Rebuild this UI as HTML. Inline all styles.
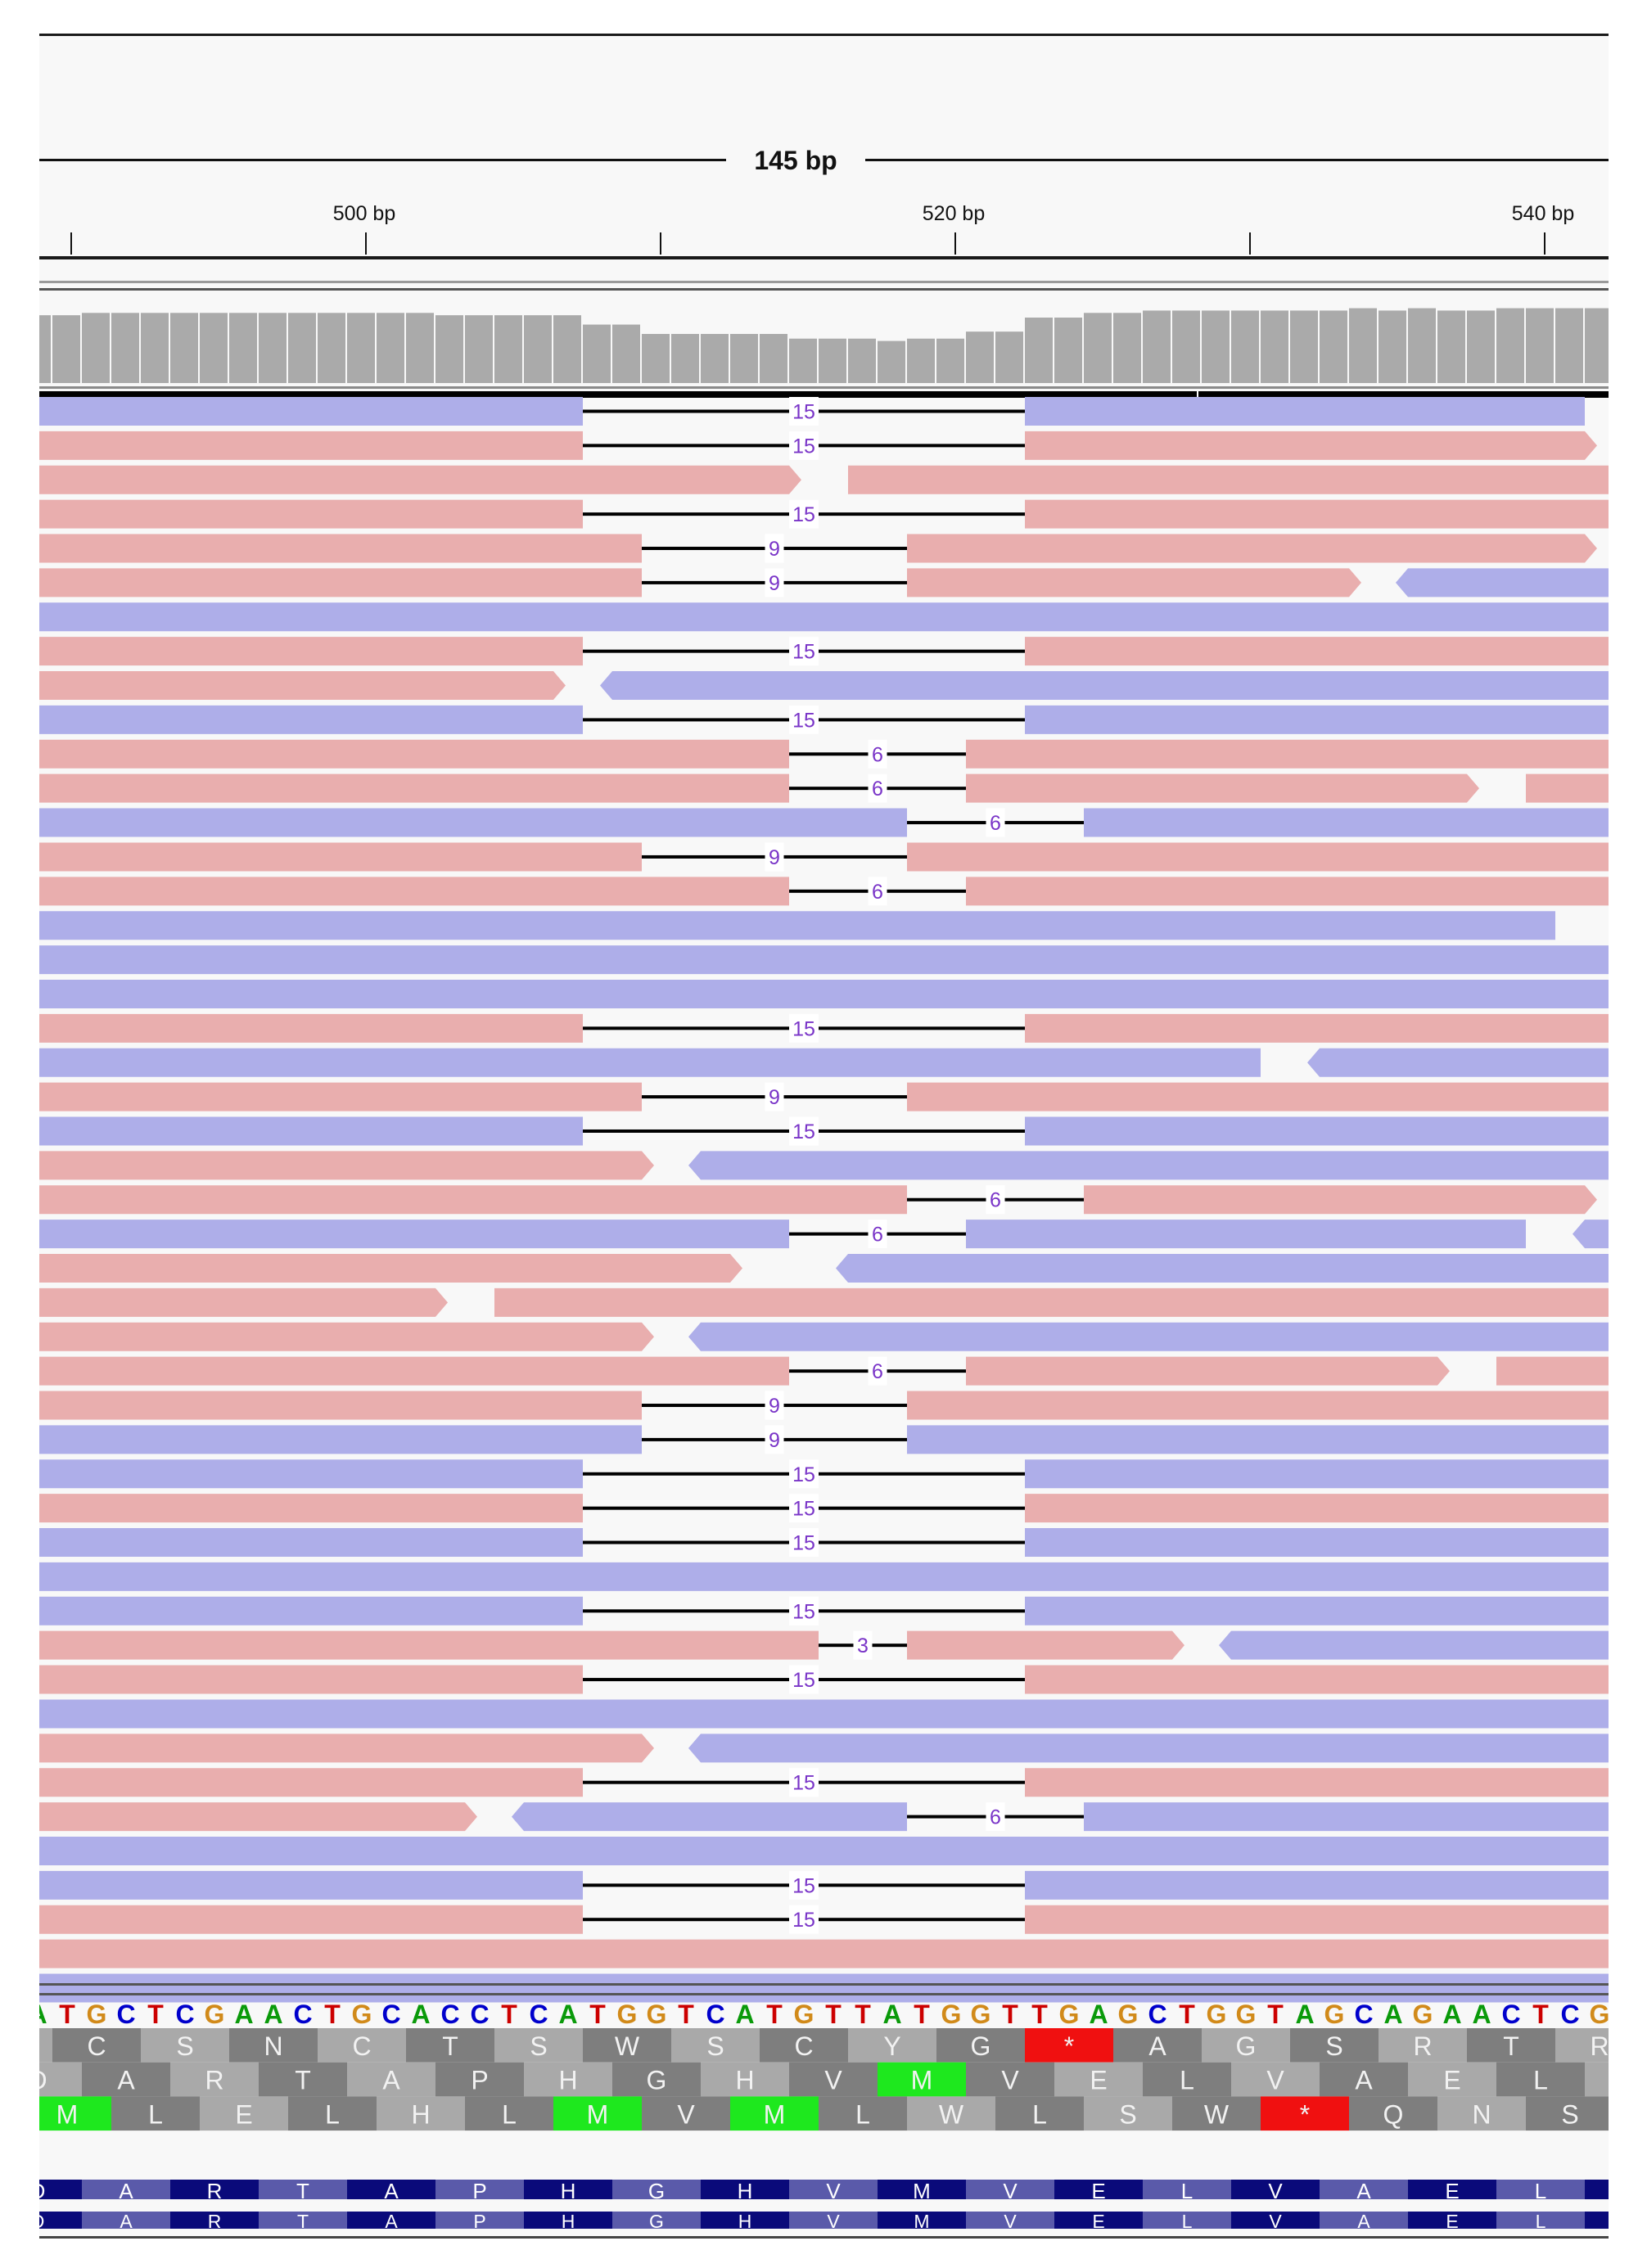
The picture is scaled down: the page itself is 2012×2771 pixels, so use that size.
<!DOCTYPE html>
<html><head><meta charset="utf-8"><title>IGV alignment view</title>
<style>
html,body{margin:0;padding:0;background:#fff;}
svg{display:block;font-family:"Liberation Sans",sans-serif;}
</style></head>
<body>
<svg id="chart" width="2012" height="2771" viewBox="0 0 2012 2771" xmlns="http://www.w3.org/2000/svg">
<defs><clipPath id="pc"><rect x="48" y="0" width="1917" height="2771"/></clipPath></defs>
<rect x="48" y="42" width="1917" height="2693" fill="#f8f8f8"/>
<g id="ruler"></g>
<g id="cov" clip-path="url(#pc)"></g>
<g id="reads" clip-path="url(#pc)"></g>
<g id="seq" clip-path="url(#pc)"></g>
<g id="trans" clip-path="url(#pc)"></g>
<g id="gene" clip-path="url(#pc)"></g>
</svg>
<script>
// ---- data ----
const tickBps = [490, 500, 510, 520, 530, 540];
const tickLabels = ["", "500 bp", "", "520 bp", "", "540 bp"];
const spanLabel = "145 bp";
const covStartBp = 488;
const coverage = [29,29,30,30,30,30,30,30,30,30,30,30,30,30,29,29,29,29,29,25,25,21,21,21,21,21,19,19,19,18,19,19,22,22,28,28,30,30,31,31,31,31,31,31,31,32,31,32,31,31,32,32,32,32];
const L = 470, R = 570;
// each read: [start, end, strand, gapStart, gapLen]
const rows = [
 [[L,541,'-',507,15]],
 [[L,541,'+',507,15]],
 [[L,514,'+'],[516,R,'+']],
 [[L,R,'+',507,15]],
 [[L,541,'+',509,9]],
 [[L,533,'+',509,9],[535,R,'-']],
 [[L,R,'-']],
 [[L,R,'+',507,15]],
 [[L,506,'+'],[508,R,'-']],
 [[L,R,'-',507,15]],
 [[L,R,'+',514,6]],
 [[L,537,'+',514,6],[539,R,'+']],
 [[L,R,'-',518,6]],
 [[L,R,'+',509,9]],
 [[L,R,'+',514,6]],
 [[L,540,'-']],
 [[L,R,'-']],
 [[L,R,'-']],
 [[L,R,'+',507,15]],
 [[L,530,'-'],[532,R,'-']],
 [[L,R,'+',509,9]],
 [[L,R,'-',507,15]],
 [[L,509,'+'],[511,R,'-']],
 [[L,541,'+',518,6]],
 [[L,539,'-',514,6],[541,R,'-']],
 [[L,512,'+'],[516,R,'-']],
 [[L,502,'+'],[504,R,'+']],
 [[L,509,'+'],[511,R,'-']],
 [[L,536,'+',514,6],[538,R,'+']],
 [[L,R,'+',509,9]],
 [[L,R,'-',509,9]],
 [[L,R,'-',507,15]],
 [[L,R,'+',507,15]],
 [[L,R,'-',507,15]],
 [[L,R,'-']],
 [[L,R,'-',507,15]],
 [[L,527,'+',515,3],[529,R,'-']],
 [[L,R,'+',507,15]],
 [[L,R,'-']],
 [[L,509,'+'],[511,R,'-']],
 [[L,R,'+',507,15]],
 [[L,503,'+'],[505,R,'-',518,6]],
 [[L,R,'-']],
 [[L,R,'-',507,15]],
 [[L,R,'+',507,15]],
 [[L,R,'+']],
 [[L,R,'-']]
];
const seqStartBp = 488;
const sequence = "ATGCTCGAACTGCACCTCATGGTCATGTTATGGTTGAGCTGGTAGCAGAACTCG";
const frameStarts = [486, 487, 488];
const frame1 = ["","C","S","N","C","T","S","W","S","C","Y","G","*","A","G","S","R","T","R"];
const frame2 = ["D","A","R","T","A","P","H","G","H","V","M","V","E","L","V","A","E","L",""];
const frame3 = ["M","L","E","L","H","L","M","V","M","L","W","L","S","W","*","Q","N","S"];
const geneStartBp = 487;
const geneAA = ["D","A","R","T","A","P","H","G","H","V","M","V","E","L","V","A","E","L",""];

// ---- helpers ----
const NS = "http://www.w3.org/2000/svg";
const BPW = 36;
function x(bp){ return 100 + (bp - 490) * BPW; }
function tickX(bp){ return x(bp) - 13; }
const covBase = 468, covUnit = 2.857;
function yCov(v){ return covBase - v * covUnit; }
function rowY(i){ return 485 + 41.88 * i; }
const RH = 35;
function mk(tag, attrs, parent){
  const e = document.createElementNS(NS, tag);
  for (const k in attrs) e.setAttribute(k, attrs[k]);
  parent.appendChild(e);
  return e;
}

// ---- ruler ----
const ruler = document.getElementById('ruler');
let el;
el = mk('rect', {x:48, y:41, width:1917, height:3, fill:'#1a1a1a'}, ruler);


el = mk('rect', {x:48, y:194, width:839, height:3, fill:'#111'}, ruler);


el = mk('rect', {x:1057, y:194, width:908, height:3, fill:'#111'}, ruler);


el = mk('text', {x:972, y:207, 'text-anchor':'middle', 'font-size':32, 'font-weight':'bold', fill:'#111'}, ruler);
el.textContent = spanLabel;


tickBps.forEach((bp, i) => {
  const t = mk('rect', {x:tickX(bp)-1, y:284, width:2, height:27, fill:'#111'}, ruler);
  
  
  if (tickLabels[i]) {
    const lb = mk('text', {x:tickX(bp)-2, y:269, 'text-anchor':'middle', 'font-size':25, fill:'#111'}, ruler);
    lb.textContent = tickLabels[i];
    
    
  }
});
el = mk('rect', {x:48, y:313, width:1917, height:4, fill:'#1a1a1a'}, ruler);


el = mk('rect', {x:48, y:343, width:1917, height:3, fill:'#9a9a9a'}, ruler);


el = mk('rect', {x:48, y:352, width:1917, height:3, fill:'#555'}, ruler);



// ---- coverage ----
const cov = document.getElementById('cov');
coverage.forEach((v, i) => {
  const bp = covStartBp + i;
  const b = mk('rect', {x:x(bp), y:yCov(v), width:BPW-2, height:covBase - yCov(v), fill:'#aaaaaa'}, cov);
  
  
});
el = mk('rect', {x:48, y:472, width:1917, height:3, fill:'#8a8a8a'}, cov);


el = mk('rect', {x:48, y:478, width:1917, height:8, fill:'#000'}, cov);


el = mk('rect', {x:1462, y:478, width:2, height:8, fill:'#fff'}, cov);



// ---- reads ----
const readsG = document.getElementById('reads');
const PINK = '#e9aeae', BLUE = '#aeaee9';
function piece(s, e, tipLeft, tipRight, y, color, g){
  const xs = x(s), xe = x(e), m = y + RH/2;
  let pts = [];
  pts.push([xs, y]); pts.push([xe, y]);
  if (tipRight) pts.push([xe+15, m]);
  pts.push([xe, y+RH]); pts.push([xs, y+RH]);
  if (tipLeft) pts.push([xs-15, m]);
  const p = mk('polygon', {points: pts.map(q => q.join(',')).join(' '), fill: color}, g);
  
  
}
rows.forEach((reads, i) => {
  const y = rowY(i);
  reads.forEach(r => {
    const [s, e, strand, gs, gl] = r;
    const color = strand === '+' ? PINK : BLUE;
    const g = mk('g', {}, readsG);
    
    
    const tl = strand === '-' && s > L, tr = strand === '+' && e < R;
    if (gs !== undefined) {
      const ge = gs + gl;
      const m = y + RH/2;
      const ln = mk('rect', {x:x(gs), y:m-2, width:x(ge)-x(gs), height:4, fill:'#000'}, g);
      
      
      piece(s, gs, tl, false, y, color, g);
      piece(ge, e, false, tr, y, color, g);
      const cx = (x(gs) + x(ge)) / 2;
      const w = String(gl).length * 13 + 10;
      const bx = mk('rect', {x:cx - w/2, y:y, width:w, height:RH, fill:'#fff'}, g);
      
      
      const t = mk('text', {x:cx, y:m+9, 'text-anchor':'middle', 'font-size':25, fill:'#7a35c8'}, g);
      t.textContent = gl;
      
      
    } else {
      piece(s, e, tl, tr, y, color, g);
    }
  });
});
el = mk('rect', {x:48, y:2423, width:1917, height:3, fill:'#555'}, readsG);


el = mk('rect', {x:48, y:2435, width:1917, height:3, fill:'#555'}, readsG);



// ---- sequence ----
const seqG = document.getElementById('seq');
const baseColors = {A:'#0a9a0a', T:'#cc0000', G:'#d18a1a', C:'#0000cc'};
sequence.split('').forEach((c, i) => {
  const t = mk('text', {x:x(seqStartBp + i) + BPW/2, y:2472, 'text-anchor':'middle', 'font-size':32, 'font-weight':'bold', fill:baseColors[c]}, seqG);
  t.textContent = c;
  
  
});

// ---- translation ----
const trG = document.getElementById('trans');
[frame1, frame2, frame3].forEach((fr, f) => {
  const y = 2478 + f * 41.7;
  fr.forEach((aa, j) => {
    const bp = frameStarts[f] + 3 * j;
    let fill = (j % 2 === 1) ? '#7e7e7e' : '#a9a9a9';
    if (aa === 'M') fill = '#1ee81e';
    if (aa === '*') fill = '#f01010';
    const r = mk('rect', {x:x(bp), y:y, width:3*BPW, height:41.7, fill:fill}, trG);
    
    
    if (aa) {
      const t = mk('text', {x:x(bp) + 1.5*BPW, y:y + 33, 'text-anchor':'middle', 'font-size':32, fill:'#f2f2f2'}, trG);
      t.textContent = aa;
      
      
    }
  });
});

// ---- gene track ----
const gG = document.getElementById('gene');
[[2663, 24], [2702, 21]].forEach(([y, h]) => {
  geneAA.forEach((aa, j) => {
    const bp = geneStartBp + 3 * j;
    const r = mk('rect', {x:x(bp), y:y, width:3*BPW, height:h, fill:(j % 2 === 0) ? '#0a0a7a' : '#5a5aaa'}, gG);
    
    
    if (aa) {
      const t = mk('text', {x:x(bp) + 1.5*BPW, y:y + h - 1, 'text-anchor':'middle', 'font-size':h + 2, fill:'#ffffff'}, gG);
      t.textContent = aa;
      
      
    }
  });
});
el = mk('rect', {x:48, y:2732, width:1917, height:3, fill:'#444'}, gG);


</script>
</body></html>
